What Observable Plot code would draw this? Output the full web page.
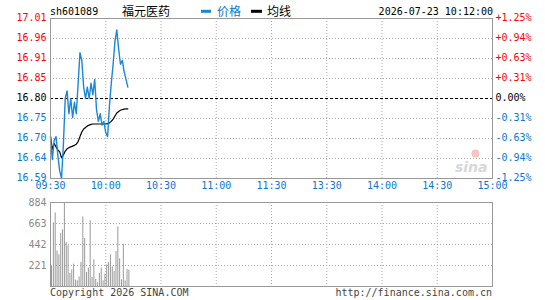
<!DOCTYPE html>
<html><head><meta charset="utf-8">
<script src="https://cdn.jsdelivr.net/npm/d3@7"></script>
<script src="https://cdn.jsdelivr.net/npm/@observablehq/plot@0.6"></script>
<style>
body{margin:0;background:#fff;}
#wrap{position:relative;width:545px;height:300px;overflow:hidden;}
#wrap > * {position:absolute;left:0;}
</style></head><body>
<div id="wrap"></div>
<script>
// ---- data ----
const code = "sh601089";
const stockName = "福元医药";
const stamp = "2026-07-23 10:12:00";
const prevClose = 16.80;
const timeLabels = ["09:30","10:00","10:30","11:00","11:30","13:30","14:00","14:30","15:00"];
const priceLabels = ["17.01","16.96","16.91","16.85","16.80","16.75","16.70","16.64","16.59"];
const pctLabels = ["+1.25%","+0.94%","+0.63%","+0.31%","0.00%","-0.31%","-0.63%","-0.94%","-1.25%"];
const volLabels = ["221","442","663","884"];
// minute-by-minute price from 09:30
const price = [16.70,16.64,16.69,16.70,16.65,16.61,16.59,16.68,16.80,16.82,
               16.76,16.80,16.75,16.79,16.76,16.84,16.92,16.90,16.83,16.80,
               16.83,16.80,16.84,16.81,16.85,16.77,16.74,16.76,16.73,16.74,
               16.71,16.70,16.78,16.84,16.89,16.95,16.98,16.93,16.89,16.90,
               16.87,16.85,16.83];
const avgPrice = [16.700,16.667,16.682,16.673,16.665,16.660,16.644,16.652,16.662,16.668,
                  16.671,16.673,16.675,16.677,16.680,16.687,16.700,16.712,16.720,16.724,
                  16.728,16.730,16.732,16.733,16.733,16.733,16.733,16.733,16.733,16.733,
                  16.733,16.734,16.736,16.740,16.746,16.754,16.762,16.766,16.769,16.771,
                  16.772,16.773,16.773];
const volume = [217,670,775,375,333,558,596,884,463,428,
                137,175,235,67,60,100,253,733,505,147,
                193,691,95,281,74,39,137,196,60,130,
                228,253,333,207,158,368,628,291,70,445,
                60,179,172];

// ---- styles ----
const BLUE_TXT = "#0a78d0", BLUE_LINE = "#1a86d8", RED = "#f00", GRAY = "#999";
const mono = "'DejaVu Sans Mono', monospace";
const cjk = "'Noto Sans CJK SC', sans-serif";
const wrap = document.getElementById("wrap");

const totalMin = 240;
const timeTicks = timeLabels.map((label, i) => ({t: i * totalMin / (timeLabels.length - 1), label}));
const pMax = +priceLabels[0], pMin = +priceLabels[priceLabels.length - 1];
const mid = (priceLabels.length - 1) / 2;
const priceTicks = priceLabels.map((label, i) => ({
  v: pMax - i * (pMax - pMin) / (priceLabels.length - 1),
  label, pct: pctLabels[i],
  color: i < mid ? RED : i === mid ? "#000" : BLUE_TXT
}));
const series = price.map((p, i) => ({i, p, a: avgPrice[i]}));
const vols = volume.map((v, i) => ({i, v}));

const common = {width: 545, marginLeft: 50, marginRight: 53,
  x: {domain: [0, totalMin], axis: null},
  style: {fontFamily: mono, fontSize: "10px", background: "transparent", overflow: "visible"}};

const pricePlot = Plot.plot({
  ...common, height: 190, marginTop: 18, marginBottom: 12,
  y: {domain: [pMin, pMax], axis: null},
  marks: [
    Plot.ruleX(timeTicks.slice(1, -1), {x: "t", stroke: "#aaa", strokeDasharray: "1,2"}),
    Plot.ruleY(priceTicks.filter((d, i) => i > 0 && i < priceTicks.length - 1 && i !== mid), {y: "v", stroke: "#aaa", strokeDasharray: "1,2"}),
    Plot.ruleY([prevClose], {stroke: "#000", strokeDasharray: "3,2"}),
    Plot.text(["sina"], {frameAnchor: "bottom-right", dx: -5, dy: -7, text: d => d, fill: "#d8d8d8", fontSize: 14, fontWeight: "bold", fontStyle: "italic", fontFamily: "Verdana, 'DejaVu Sans', sans-serif"}),
    Plot.dot(["logo"], {frameAnchor: "bottom-right", dx: -17, dy: -25, r: 4, fill: "#f5c4c4"}),
    Plot.line(series, {x: "i", y: "a", stroke: "#000", strokeWidth: 1.2}),
    Plot.line(series, {x: "i", y: "p", stroke: BLUE_LINE, strokeWidth: 1.4}),
    Plot.frame({stroke: GRAY}),
    Plot.text(priceTicks, {x: () => 0, y: "v", text: "label", fill: "color", textAnchor: "end", dx: -4, dy: -1}),
    Plot.text(priceTicks, {x: () => totalMin, y: "v", text: "pct", fill: "color", textAnchor: "start", dx: 3, dy: -1}),
    Plot.text(timeTicks, {x: "t", text: "label", frameAnchor: "bottom", dy: 10.5, fill: BLUE_TXT})
  ]
});
pricePlot.style.top = "0px";
wrap.appendChild(pricePlot);

const volPlot = Plot.plot({
  ...common, height: 110, marginTop: 12, marginBottom: 14,
  y: {domain: [0, +volLabels[volLabels.length - 1]], axis: null},
  marks: [
    Plot.ruleX(timeTicks.slice(1, -1), {x: "t", stroke: "#aaa", strokeDasharray: "1,2"}),
    Plot.ruleY(volLabels.slice(0, -1).map(Number), {stroke: "#aaa", strokeDasharray: "1,2"}),
    Plot.ruleX(vols, {x: d => d.i + 0.55, y1: 0, y2: "v", stroke: GRAY, strokeWidth: 1}),
    Plot.frame({stroke: GRAY}),
    Plot.text(volLabels, {x: () => 0, y: d => +d, text: d => d, fill: "#888", textAnchor: "end", dx: -4})
  ]
});
volPlot.style.top = "190px";
wrap.appendChild(volPlot);

// header & footer texts
const ns = "http://www.w3.org/2000/svg";
const over = document.createElementNS(ns, "svg");
over.setAttribute("width", 545); over.setAttribute("height", 300);
over.style.top = "0px"; over.style.pointerEvents = "none";
function txt(s, x, y, opts = {}) {
  const t = document.createElementNS(ns, "text");
  t.textContent = s;
  t.setAttribute("x", x); t.setAttribute("y", y);
  t.setAttribute("font-family", opts.font || mono);
  t.setAttribute("font-size", opts.size || 10);
  t.setAttribute("fill", opts.fill || "#000");
  if (opts.anchor) t.setAttribute("text-anchor", opts.anchor);
  over.appendChild(t);
}
function rect(x, y, w, h, fill) {
  const r = document.createElementNS(ns, "rect");
  r.setAttribute("x", x); r.setAttribute("y", y); r.setAttribute("width", w); r.setAttribute("height", h); r.setAttribute("fill", fill);
  over.appendChild(r);
}
txt(code, 50, 14.5);
txt(stockName, 122, 15.5, {font: cjk, size: 12});
rect(201, 9.8, 10, 3, BLUE_LINE);
txt("价格", 217, 15.5, {font: cjk, size: 12, fill: BLUE_TXT});
rect(251, 9.8, 11, 3, "#000");
txt("均线", 267, 15.5, {font: cjk, size: 12});
txt(stamp, 493, 14.5, {anchor: "end"});
txt("Copyright 2026 SINA.COM", 50, 296, {fill: "#444"});
txt("http://finance.sina.com.cn", 492, 296, {anchor: "end", fill: "#444"});
wrap.appendChild(over);
</script>
</body></html>
